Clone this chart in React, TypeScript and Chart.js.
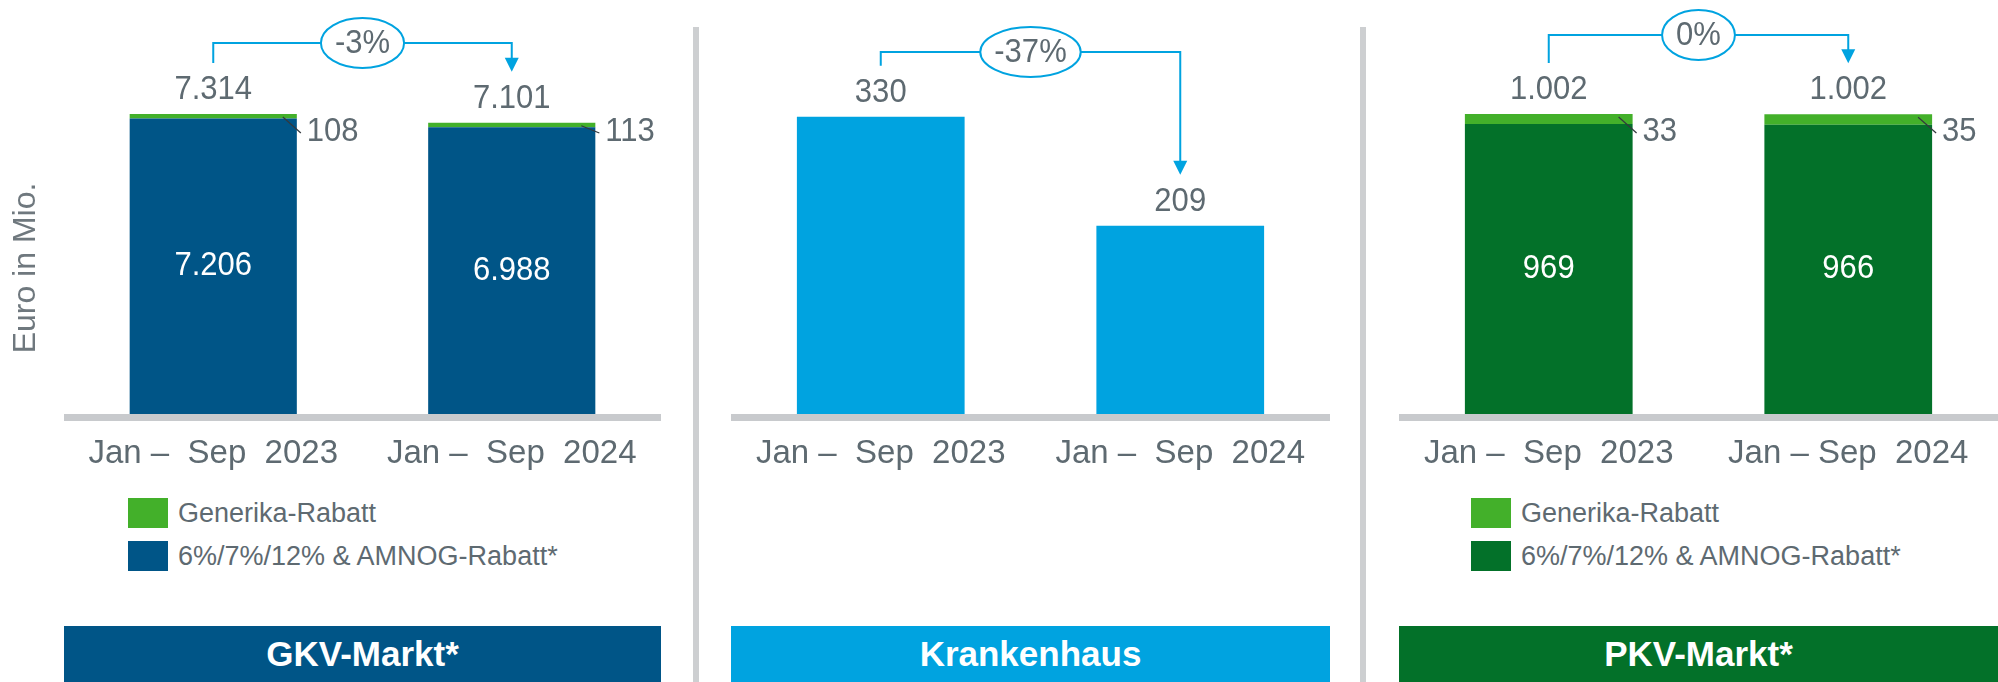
import React, { useEffect, useRef } from 'react';
import { Chart, registerables } from 'chart.js';

Chart.register(...registerables);

const FONT = '"Liberation Sans", Arial, Helvetica, sans-serif';
const TEXT = '#5e6a71';
const ARROW = '#00a3e0';
const DARK_BLUE = '#005587';
const LIGHT_BLUE = '#00a3e0';
const DARK_GREEN = '#037129';
const LIGHT_GREEN = '#43b02a';
const AXIS_GRAY = '#c8cacd';

// ---- data ----
const gkvPeriods = ['Jan –  Sep  2023', 'Jan –  Sep  2024'];
const khPeriods = ['Jan –  Sep  2023', 'Jan –  Sep  2024'];
const pkvPeriods = ['Jan –  Sep  2023', 'Jan – Sep  2024'];
const gkvAmnog = [7206, 6988];
const gkvGenerika = [108, 113];
const gkvTotal = [7314, 7101];
const khValues = [330, 209];
const pkvAmnog = [969, 966];
const pkvGenerika = [33, 35];
const pkvTotal = [1002, 1002];
const changeLabels = ['-3%', '-37%', '0%'];
const legendLabels = ['Generika-Rabatt', '6%/7%/12% & AMNOG-Rabatt*'];
const panelTitles = ['GKV-Markt*', 'Krankenhaus', 'PKV-Markt*'];
const yAxisTitle = 'Euro in Mio.';

const fmt = (n: number) => String(n).replace(/\B(?=(\d{3})+(?!\d))/g, '.');

type DS = { label: string; data: number[]; color: string };
type PanelCfg = {
  left: number;
  width: number;
  padLeft: number;
  padRight: number;
  yMax: number;
  labels: string[];
  datasets: DS[];
  totals: number[];
  stackedLabels: boolean;
  change: string;
  bracketY: number;
  yTitle: boolean;
};

const panels: PanelCfg[] = [
  {
    left: 0, width: 680, padLeft: 64, padRight: 19, yMax: 9752,
    labels: gkvPeriods,
    datasets: [
      { label: legendLabels[1], data: gkvAmnog, color: DARK_BLUE },
      { label: legendLabels[0], data: gkvGenerika, color: LIGHT_GREEN },
    ],
    totals: gkvTotal, stackedLabels: true, change: changeLabels[0], bracketY: 43, yTitle: true,
  },
  {
    left: 700, width: 650, padLeft: 31, padRight: 20, yMax: 444,
    labels: khPeriods,
    datasets: [{ label: panelTitles[1], data: khValues, color: LIGHT_BLUE }],
    totals: khValues, stackedLabels: false, change: changeLabels[1], bracketY: 52, yTitle: false,
  },
  {
    left: 1366, width: 632, padLeft: 33, padRight: 0, yMax: 1336,
    labels: pkvPeriods,
    datasets: [
      { label: legendLabels[1], data: pkvAmnog, color: DARK_GREEN },
      { label: legendLabels[0], data: pkvGenerika, color: LIGHT_GREEN },
    ],
    totals: pkvTotal, stackedLabels: true, change: changeLabels[2], bracketY: 35, yTitle: false,
  },
];

// text slightly condensed horizontally, like the reference rendering
function condText(
  ctx: CanvasRenderingContext2D,
  text: string,
  x: number,
  y: number,
  align: CanvasTextAlign,
  sx = 0.94,
) {
  ctx.save();
  ctx.translate(x, y);
  ctx.scale(sx, 1);
  ctx.textAlign = align;
  ctx.fillText(text, 0, 0);
  ctx.restore();
}

function Panel({ cfg }: { cfg: PanelCfg }) {
  const ref = useRef<HTMLCanvasElement | null>(null);
  useEffect(() => {
    if (!ref.current) return;
    const annot = {
      id: 'annot',
      beforeDatasetsDraw(chart: any) {
        const { ctx, chartArea } = chart;
        ctx.save();
        ctx.fillStyle = AXIS_GRAY;
        ctx.fillRect(chartArea.left, chartArea.bottom, chartArea.right - chartArea.left, 7);
        if (cfg.yTitle) {
          ctx.translate(26, 268);
          ctx.rotate(-Math.PI / 2);
          ctx.font = `32px ${FONT}`;
          ctx.fillStyle = '#6f787e';
          ctx.textAlign = 'center';
          ctx.textBaseline = 'middle';
          ctx.fillText(yAxisTitle, 0, 0);
        }
        ctx.restore();
      },
      afterDatasetsDraw(chart: any) {
        const ctx = chart.ctx as CanvasRenderingContext2D;
        const n = chart.data.datasets.length;
        const baseMeta = chart.getDatasetMeta(0);
        const topMeta = chart.getDatasetMeta(n - 1);
        ctx.save();
        ctx.font = `33px ${FONT}`;
        ctx.textBaseline = 'middle';
        const labelY: number[] = [];
        cfg.totals.forEach((t, i) => {
          const b = topMeta.data[i];
          const y = b.y - 24;
          labelY.push(y);
          ctx.fillStyle = TEXT;
          condText(ctx, fmt(t), b.x, y, 'center');
        });
        if (cfg.stackedLabels) {
          baseMeta.data.forEach((b: any, i: number) => {
            ctx.fillStyle = '#ffffff';
            condText(ctx, fmt(cfg.datasets[0].data[i]), b.x, (b.y + b.base) / 2, 'center');
          });
          const minTop = Math.min(...topMeta.data.map((b: any) => b.y));
          const sideY = minTop + 18;
          topMeta.data.forEach((b: any, i: number) => {
            const right = b.x + b.width / 2;
            ctx.strokeStyle = '#33393e';
            ctx.lineWidth = 1.2;
            ctx.beginPath();
            ctx.moveTo(right - 14, b.y + 3);
            ctx.lineTo(right + 4, sideY + 1);
            ctx.stroke();
            ctx.fillStyle = TEXT;
            condText(ctx, fmt(cfg.datasets[n - 1].data[i]), right + 10, sideY, 'left');
          });
        }
        // change bracket
        const x0 = topMeta.data[0].x;
        const x1 = topMeta.data[1].x;
        const y0 = labelY[0] - 27;
        const y1 = labelY[1] - 27;
        const by = cfg.bracketY;
        ctx.strokeStyle = ARROW;
        ctx.fillStyle = ARROW;
        ctx.lineWidth = 2;
        ctx.beginPath();
        ctx.moveTo(x0, y0);
        ctx.lineTo(x0, by);
        ctx.lineTo(x1, by);
        ctx.lineTo(x1, y1 - 12);
        ctx.stroke();
        ctx.beginPath();
        ctx.moveTo(x1 - 7, y1 - 14);
        ctx.lineTo(x1 + 7, y1 - 14);
        ctx.lineTo(x1, y1);
        ctx.closePath();
        ctx.fill();
        ctx.font = `33px ${FONT}`;
        const tw = ctx.measureText(cfg.change).width * 0.94;
        const cx = (x0 + x1) / 2;
        const rx = (tw + 28) / 2;
        const ry = 25;
        ctx.beginPath();
        ctx.ellipse(cx, by, rx, ry, 0, 0, Math.PI * 2);
        ctx.fillStyle = '#ffffff';
        ctx.fill();
        ctx.stroke();
        ctx.fillStyle = TEXT;
        condText(ctx, cfg.change, cx, by + 1, 'center');
        ctx.restore();
      },
    };

    const chart = new Chart(ref.current, {
      type: 'bar',
      data: {
        labels: cfg.labels,
        datasets: cfg.datasets.map((d) => ({
          label: d.label,
          data: d.data,
          backgroundColor: d.color,
          borderWidth: 0,
          barPercentage: 0.56,
          categoryPercentage: 1,
        })),
      },
      options: {
        responsive: false,
        animation: false,
        devicePixelRatio: 1,
        layout: { padding: { left: cfg.padLeft, right: cfg.padRight, top: 14, bottom: 6 } },
        plugins: {
          legend: { display: false },
          tooltip: { enabled: false },
        },
        scales: {
          x: {
            stacked: true,
            grid: { display: false, drawTicks: false },
            border: { display: false },
            ticks: {
              color: TEXT,
              font: { family: FONT, size: 33 },
              padding: 20,
              maxRotation: 0,
              autoSkip: false,
            },
            afterFit: (s: any) => {
              s.height = 60;
            },
          },
          y: { stacked: true, display: false, min: 0, max: cfg.yMax },
        },
      },
      plugins: [annot],
    } as any);
    return () => chart.destroy();
  }, [cfg]);

  return (
    <canvas
      ref={ref}
      width={cfg.width}
      height={480}
      style={{ position: 'absolute', left: cfg.left, top: 0, width: cfg.width, height: 480 }}
    />
  );
}

function Legend({ left, colors }: { left: number; colors: string[] }) {
  return (
    <>
      {legendLabels.map((l, i) => (
        <div
          key={l}
          style={{
            position: 'absolute',
            left,
            top: 498 + i * 43,
            height: 30,
            display: 'flex',
            alignItems: 'center',
            fontFamily: FONT,
            fontSize: 27,
            color: TEXT,
            whiteSpace: 'nowrap',
          }}
        >
          <div style={{ width: 40, height: 30, background: colors[i], marginRight: 10 }} />
          <span>{l}</span>
        </div>
      ))}
    </>
  );
}

const banners = [
  { left: 64, width: 597, color: DARK_BLUE },
  { left: 731, width: 599, color: LIGHT_BLUE },
  { left: 1399, width: 599, color: DARK_GREEN },
];

export default function App() {
  return (
    <div
      style={{
        position: 'absolute',
        left: 0,
        top: 0,
        width: 1998,
        height: 682,
        background: '#ffffff',
        overflow: 'hidden',
      }}
    >
      {panels.map((p, i) => (
        <Panel key={i} cfg={p} />
      ))}
      <div style={{ position: 'absolute', left: 693, top: 27, width: 6, height: 655, background: '#cdcfd1' }} />
      <div style={{ position: 'absolute', left: 1360, top: 27, width: 6, height: 655, background: '#cdcfd1' }} />
      <Legend left={128} colors={[LIGHT_GREEN, DARK_BLUE]} />
      <Legend left={1471} colors={[LIGHT_GREEN, DARK_GREEN]} />
      {banners.map((b, i) => (
        <div
          key={i}
          style={{
            position: 'absolute',
            left: b.left,
            top: 626,
            width: b.width,
            height: 56,
            background: b.color,
            color: '#ffffff',
            fontFamily: FONT,
            fontWeight: 'bold',
            fontSize: 35,
            display: 'flex',
            alignItems: 'center',
            justifyContent: 'center',
          }}
        >
          {panelTitles[i]}
        </div>
      ))}
    </div>
  );
}
